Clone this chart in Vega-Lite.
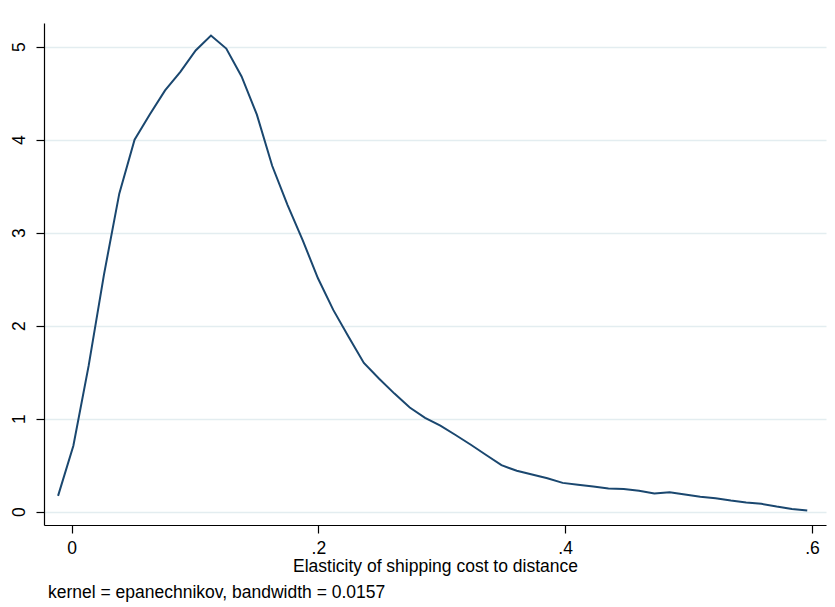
{
  "$schema": "https://vega.github.io/schema/vega-lite/v6.json",
  "width": 782,
  "height": 502,
  "autosize": "none",
  "padding": {"left": 44, "top": 23, "right": 9, "bottom": 82},
  "background": "white",
  "config": {
    "view": {"stroke": null},
    "font": "Liberation Sans",
    "axis": {
      "labelFont": "Liberation Sans",
      "titleFont": "Liberation Sans",
      "labelFontSize": 17.5,
      "titleFontSize": 17.5,
      "titleFontWeight": "normal",
      "labelColor": "#000000",
      "titleColor": "#000000",
      "domainColor": "#000000",
      "tickColor": "#000000",
      "domainWidth": 1.2,
      "tickWidth": 1.2,
      "tickSize": 8
    }
  },
  "title": {
    "text": "kernel = epanechnikov, bandwidth = 0.0157",
    "orient": "bottom",
    "anchor": "start",
    "frame": "group",
    "font": "Liberation Sans",
    "fontSize": 17.5,
    "fontWeight": "normal",
    "color": "#000000",
    "dx": 4,
    "offset": 9
  },
  "data": {
    "values": [
      {"x": -0.0109, "density": 0.17},
      {"x": 0.0015, "density": 0.71},
      {"x": 0.0139, "density": 1.57},
      {"x": 0.0263, "density": 2.55},
      {"x": 0.0387, "density": 3.42},
      {"x": 0.0511, "density": 4.0},
      {"x": 0.0634, "density": 4.27},
      {"x": 0.0758, "density": 4.53},
      {"x": 0.0882, "density": 4.73},
      {"x": 0.1006, "density": 4.96},
      {"x": 0.113, "density": 5.12},
      {"x": 0.1254, "density": 4.98},
      {"x": 0.1378, "density": 4.68},
      {"x": 0.1502, "density": 4.27},
      {"x": 0.1626, "density": 3.72},
      {"x": 0.175, "density": 3.3},
      {"x": 0.1873, "density": 2.92},
      {"x": 0.1997, "density": 2.51},
      {"x": 0.2121, "density": 2.17},
      {"x": 0.2245, "density": 1.88},
      {"x": 0.2369, "density": 1.6},
      {"x": 0.2493, "density": 1.43},
      {"x": 0.2617, "density": 1.27},
      {"x": 0.2741, "density": 1.12},
      {"x": 0.2865, "density": 1.01},
      {"x": 0.2989, "density": 0.925},
      {"x": 0.3112, "density": 0.825},
      {"x": 0.3236, "density": 0.72},
      {"x": 0.336, "density": 0.61},
      {"x": 0.3484, "density": 0.5},
      {"x": 0.3608, "density": 0.44},
      {"x": 0.3732, "density": 0.4},
      {"x": 0.3856, "density": 0.36},
      {"x": 0.398, "density": 0.31},
      {"x": 0.4104, "density": 0.29},
      {"x": 0.4228, "density": 0.27},
      {"x": 0.4351, "density": 0.25},
      {"x": 0.4475, "density": 0.245},
      {"x": 0.4599, "density": 0.225},
      {"x": 0.4723, "density": 0.195},
      {"x": 0.4847, "density": 0.21},
      {"x": 0.4971, "density": 0.185},
      {"x": 0.5095, "density": 0.16},
      {"x": 0.5219, "density": 0.145},
      {"x": 0.5343, "density": 0.12},
      {"x": 0.5467, "density": 0.1},
      {"x": 0.559, "density": 0.085},
      {"x": 0.5714, "density": 0.055},
      {"x": 0.5838, "density": 0.03},
      {"x": 0.5962, "density": 0.012}
    ]
  },
  "mark": {"type": "line", "color": "#1a476f", "strokeWidth": 2, "clip": true},
  "encoding": {
    "x": {
      "field": "x",
      "type": "quantitative",
      "title": "Elasticity of shipping cost to distance",
      "scale": {"domain": [-0.0223, 0.6114], "nice": false, "zero": false},
      "axis": {
        "values": [0, 0.2, 0.4, 0.6],
        "labelExpr": "datum.value == 0 ? '0' : replace(format(datum.value, '.1f'), '0.', '.')",
        "grid": false,
        "labelPadding": 6,
        "titlePadding": 1
      }
    },
    "y": {
      "field": "density",
      "type": "quantitative",
      "title": null,
      "scale": {"domain": [-0.143, 5.255], "nice": false, "zero": false},
      "axis": {
        "values": [0, 1, 2, 3, 4, 5],
        "format": "d",
        "labelAngle": -90,
        "labelAlign": "center",
        "labelBaseline": "bottom",
        "labelPadding": 8,
        "grid": true,
        "gridColor": "#e3edf0",
        "gridWidth": 1.6
      }
    }
  }
}
